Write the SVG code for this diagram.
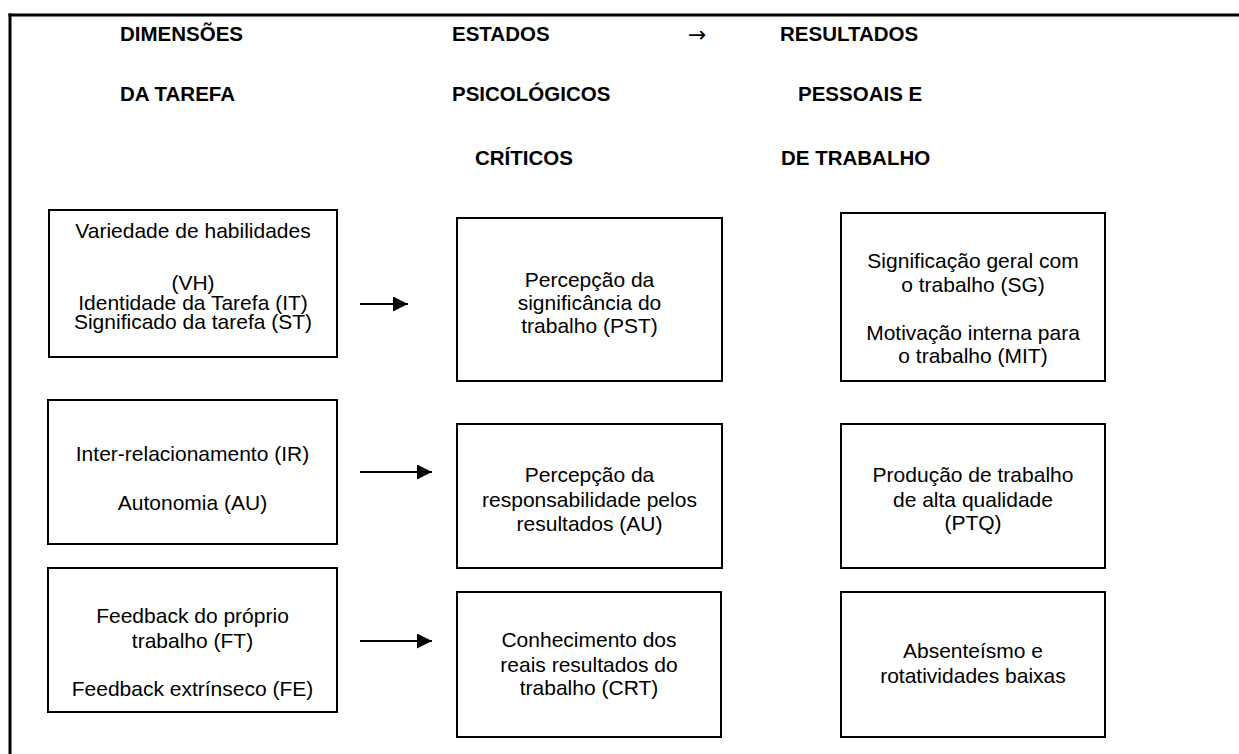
<svg xmlns="http://www.w3.org/2000/svg" width="1239" height="754" viewBox="0 0 1239 754">
  <style>
    .hdr { font-family: "Liberation Sans", Arial, sans-serif; font-weight: bold; font-size: 20.5px; fill: #000; }
    .sym { font-family: "DejaVu Sans", sans-serif; font-size: 22px; fill: #000; }
    .box { fill: #fff; stroke: #000; stroke-width: 2; }
    .lbl { font-family: "Liberation Sans", Arial, sans-serif; font-size: 21px; fill: #000; text-anchor: middle; }
    .conn { stroke: #000; stroke-width: 2; fill: none; }
    .frame { stroke: #000; stroke-width: 3; fill: none; }
  </style>
  <defs>
    <marker id="arrow" markerUnits="userSpaceOnUse" markerWidth="16" markerHeight="16" refX="15" refY="7.5" orient="auto">
      <path d="M0,0 L15,7.5 L0,15 Z" fill="#000"/>
    </marker>
  </defs>
  <rect width="1239" height="754" fill="#fff"/>
  <g id="frame">
    <line class="frame" x1="8.5" y1="15" x2="1239" y2="15"/>
    <line class="frame" x1="10" y1="13.5" x2="10" y2="754"/>
  </g>
  <g id="headers">
    <text class="hdr" x="120" y="41">DIMENSÕES</text>
    <text class="hdr" x="120" y="101">DA TAREFA</text>
    <text class="hdr" x="452" y="41">ESTADOS</text>
    <text class="hdr" x="452" y="101">PSICOLÓGICOS</text>
    <text class="hdr" x="475" y="165">CRÍTICOS</text>
    <text class="sym" x="688" y="42">→</text>
    <text class="hdr" x="780" y="41">RESULTADOS</text>
    <text class="hdr" x="798" y="101">PESSOAIS E</text>
    <text class="hdr" x="781" y="165">DE TRABALHO</text>
  </g>
  <g id="node-vh">
    <rect class="box" x="49" y="210" width="288" height="147"/>
    <text class="lbl" x="193" y="238">Variedade de habilidades</text>
    <text class="lbl" x="193" y="290">(VH)</text>
    <text class="lbl" x="193" y="309.5">Identidade da Tarefa (IT)</text>
    <text class="lbl" x="193" y="329">Significado da tarefa (ST)</text>
  </g>
  <g id="node-ir">
    <rect class="box" x="48" y="400" width="289" height="144"/>
    <text class="lbl" x="192.5" y="461">Inter-relacionamento (IR)</text>
    <text class="lbl" x="192.5" y="510">Autonomia (AU)</text>
  </g>
  <g id="node-ft">
    <rect class="box" x="48" y="568" width="289" height="144"/>
    <text class="lbl" x="192.5" y="622.5">Feedback do próprio</text>
    <text class="lbl" x="192.5" y="647.5">trabalho (FT)</text>
    <text class="lbl" x="192.5" y="696">Feedback extrínseco (FE)</text>
  </g>
  <g id="node-pst">
    <rect class="box" x="457" y="218" width="265" height="163"/>
    <text class="lbl" x="589.5" y="287">Percepção da</text>
    <text class="lbl" x="589.5" y="310">significância do</text>
    <text class="lbl" x="589.5" y="333">trabalho (PST)</text>
  </g>
  <g id="node-au">
    <rect class="box" x="457" y="424" width="265" height="144"/>
    <text class="lbl" x="589.5" y="481.5">Percepção da</text>
    <text class="lbl" x="589.5" y="506.5">responsabilidade pelos</text>
    <text class="lbl" x="589.5" y="530.5">resultados (AU)</text>
  </g>
  <g id="node-crt">
    <rect class="box" x="457" y="592" width="264" height="145"/>
    <text class="lbl" x="589" y="646.5">Conhecimento dos</text>
    <text class="lbl" x="589" y="671.5">reais resultados do</text>
    <text class="lbl" x="589" y="695">trabalho (CRT)</text>
  </g>
  <g id="node-sg">
    <rect class="box" x="841" y="213" width="264" height="168"/>
    <text class="lbl" x="973" y="268">Significação geral com</text>
    <text class="lbl" x="973" y="291.5">o trabalho (SG)</text>
    <text class="lbl" x="973" y="340">Motivação interna para</text>
    <text class="lbl" x="973" y="363">o trabalho (MIT)</text>
  </g>
  <g id="node-ptq">
    <rect class="box" x="841" y="424" width="264" height="144"/>
    <text class="lbl" x="973" y="481.5">Produção de trabalho</text>
    <text class="lbl" x="973" y="506.5">de alta qualidade</text>
    <text class="lbl" x="973" y="530">(PTQ)</text>
  </g>
  <g id="node-abs">
    <rect class="box" x="841" y="592" width="264" height="145"/>
    <text class="lbl" x="973" y="658">Absenteísmo e</text>
    <text class="lbl" x="973" y="683">rotatividades baixas</text>
  </g>
  <g id="connectors">
    <line class="conn" x1="360" y1="304" x2="408" y2="304" marker-end="url(#arrow)"/>
    <line class="conn" x1="360" y1="472" x2="432" y2="472" marker-end="url(#arrow)"/>
    <line class="conn" x1="360" y1="641" x2="432" y2="641" marker-end="url(#arrow)"/>
  </g>
</svg>
